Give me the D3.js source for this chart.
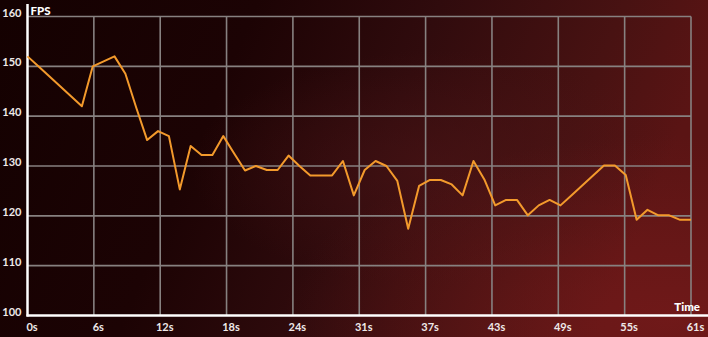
<!DOCTYPE html>
<html>
<head>
<meta charset="utf-8">
<script src="https://d3js.org/d3.v7.min.js"></script>
<style>
  html, body { margin: 0; padding: 0; background: #150202; overflow: hidden; }
  svg { display: block; }
  .lbl { font-family: Lato, "Open Sans", sans-serif; fill: #efe9e9; font-size: 11px; font-weight: 700; }
  .ttl { font-family: Lato, "Open Sans", sans-serif; fill: #ffffff; font-size: 11.5px; font-weight: 900; }
</style>
</head>
<body>
<div id="chart"></div>
<script>
// data: one FPS reading per second
var seconds = d3.range(0, 62);
var fps = [152, 150, 148, 146, 144, 142, 150, 151, 152, 148.5,
           141.7, 135.2, 137, 136, 125.3, 134, 132.2, 132.2, 136, 132.5,
           129.1, 130, 129.2, 129.2, 132.1, 130, 128.1, 128.1, 128.1, 131,
           124.1, 129.2, 131, 130, 127, 117.4, 126, 127.2, 127.2, 126.3,
           124.1, 131, 127.3, 122.1, 123.2, 123.2, 120.1, 122.1, 123.2, 122.1,
           124.1, 126.1, 128.1, 130.1, 130.1, 128.2, 119.2, 121.2, 120.1, 120.1,
           119.2, 119.2];
var yTicks = [110, 120, 130, 140, 150, 160];
var yLabels = [100, 110, 120, 130, 140, 150, 160];
var xTickValues = [0, 6.1, 12.2, 18.3, 24.4, 30.5, 36.6, 42.7, 48.8, 54.9, 61];
var xTickLabels = ["0s", "6s", "12s", "18s", "24s", "31s", "37s", "43s", "49s", "55s", "61s"];

var W = 708, H = 337;
var x = d3.scaleLinear().domain([0, 61]).range([27.5, 691]);
var y = d3.scaleLinear().domain([100, 160]).range([315.5, 16.5]);

var svg = d3.select("#chart").append("svg")
    .attr("width", W).attr("height", H);

// background
var defs = svg.append("defs");
var lg = defs.append("linearGradient").attr("id", "bg").attr("x1", 0).attr("x2", 1).attr("y1", 0).attr("y2", 0.2);
lg.append("stop").attr("offset", "0%").attr("stop-color", "#140101");
lg.append("stop").attr("offset", "35%").attr("stop-color", "#1c0304");
lg.append("stop").attr("offset", "60%").attr("stop-color", "#300b0d");
lg.append("stop").attr("offset", "85%").attr("stop-color", "#481212");
lg.append("stop").attr("offset", "100%").attr("stop-color", "#5a1414");
var rg = defs.append("radialGradient").attr("id", "glow")
    .attr("cx", 0.95).attr("cy", 0.95).attr("r", 0.55);
rg.append("stop").attr("offset", "0%").attr("stop-color", "#7e1c1c").attr("stop-opacity", 0.6);
rg.append("stop").attr("offset", "100%").attr("stop-color", "#7e1c1c").attr("stop-opacity", 0);
var rg2 = defs.append("radialGradient").attr("id", "glow2")
    .attr("cx", 0.62).attr("cy", 0.5).attr("r", 0.35);
rg2.append("stop").attr("offset", "0%").attr("stop-color", "#4a1416").attr("stop-opacity", 0.6);
rg2.append("stop").attr("offset", "100%").attr("stop-color", "#4a1416").attr("stop-opacity", 0);

svg.append("rect").attr("width", W).attr("height", H).attr("fill", "url(#bg)");
svg.append("rect").attr("width", W).attr("height", H).attr("fill", "url(#glow2)");
svg.append("rect").attr("width", W).attr("height", H).attr("fill", "url(#glow)");

// grid
var grid = svg.append("g").attr("stroke", "#878180").attr("stroke-width", 1.6);
grid.selectAll(".hg").data(yTicks).enter().append("line")
    .attr("x1", x(0)).attr("x2", x(61))
    .attr("y1", function (d) { return y(d); })
    .attr("y2", function (d) { return y(d); });
grid.selectAll(".vg").data(xTickValues.slice(1)).enter().append("line")
    .attr("x1", function (d) { return x(d); })
    .attr("x2", function (d) { return x(d); })
    .attr("y1", y(160)).attr("y2", y(100));

// axes lines
svg.append("line").attr("x1", x(0)).attr("x2", x(0)).attr("y1", 4).attr("y2", y(100) + 1)
    .attr("stroke", "#ffffff").attr("stroke-width", 2.5);
svg.append("line").attr("x1", x(0) - 1).attr("x2", W).attr("y1", y(100)).attr("y2", y(100))
    .attr("stroke", "#ffffff").attr("stroke-width", 2.5);

// tick labels
svg.selectAll(".yl").data(yLabels).enter().append("text")
    .attr("class", "lbl")
    .attr("x", 21.5)
    .attr("y", function (d) { return y(d); })
    .attr("text-anchor", "end")
    .text(function (d) { return d; });

svg.selectAll(".xl").data(xTickValues).enter().append("text")
    .attr("class", "lbl")
    .attr("x", function (d) { return x(d) + 4.5; })
    .attr("y", 331)
    .attr("text-anchor", "middle")
    .text(function (d, i) { return xTickLabels[i]; });

svg.append("text").attr("class", "ttl").attr("x", 30.5).attr("y", 14.5).text("FPS");
svg.append("text").attr("class", "ttl").attr("x", 700).attr("y", 311)
    .attr("text-anchor", "end").text("Time");

// line
var line = d3.line()
    .x(function (d, i) { return x(seconds[i]); })
    .y(function (d) { return y(d); });

svg.append("path")
    .datum(fps)
    .attr("d", line)
    .attr("fill", "none")
    .attr("stroke", "#f39a2c")
    .attr("stroke-width", 2)
    .attr("stroke-linejoin", "round");
</script>
</body>
</html>
